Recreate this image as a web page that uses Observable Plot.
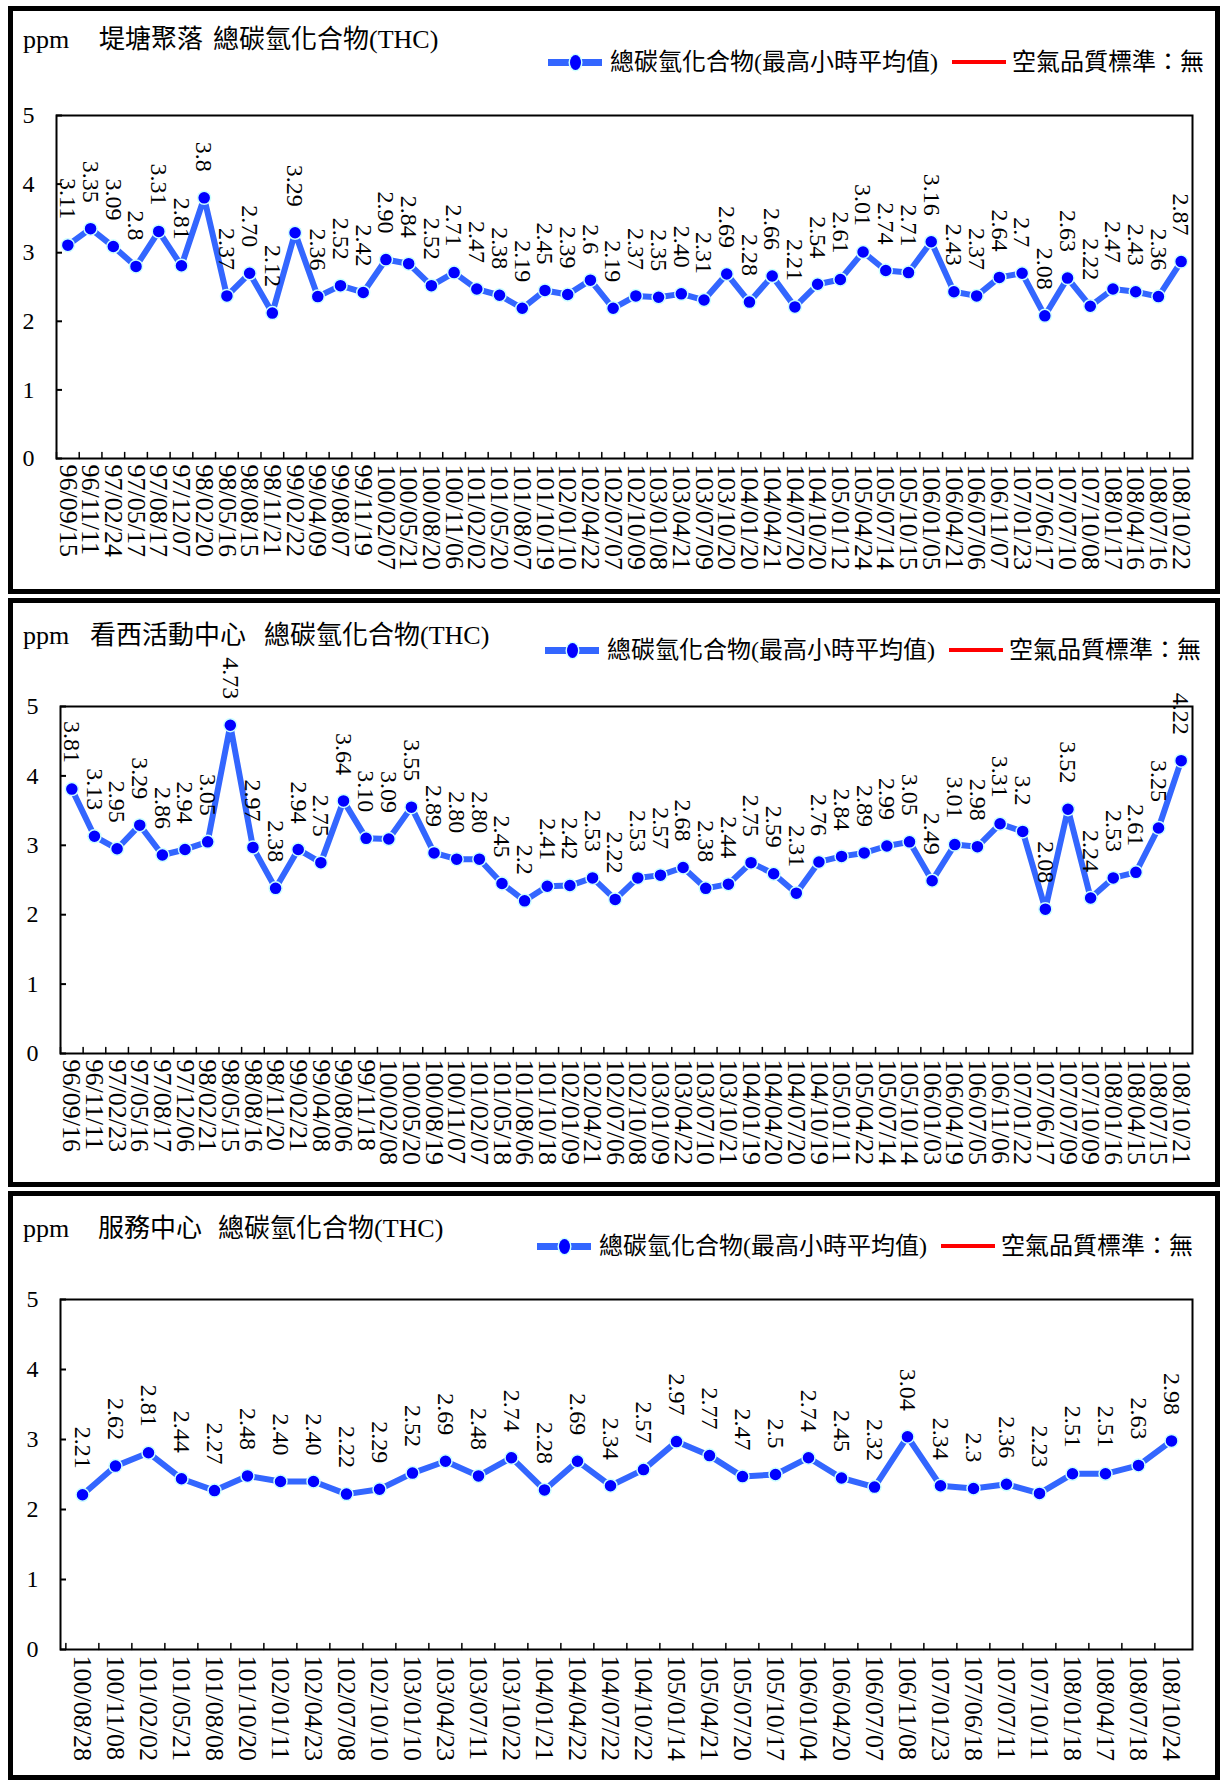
<!DOCTYPE html>
<html><head><meta charset="utf-8">
<script src="https://cdn.jsdelivr.net/npm/d3@7"></script>
<script src="https://cdn.jsdelivr.net/npm/@observablehq/plot@0.6"></script>
<style>
html,body{margin:0;padding:0;background:#fff;}
body{width:1220px;height:1780px;position:relative;overflow:hidden;font-family:"Liberation Serif","Noto Sans CJK TC",serif;color:#000;}
.panel{position:absolute;left:8px;width:1212px;border:5px solid #000;box-sizing:border-box;background:#fff;}
.title{position:absolute;font-size:26px;line-height:30px;white-space:nowrap;z-index:2;}
.title span{position:absolute;top:0;}
.legend{position:absolute;display:flex;align-items:center;font-size:24px;line-height:28px;white-space:nowrap;z-index:2;}
.sw-blue{position:relative;width:54px;height:7px;background:#3366ff;margin-right:8px;}
.sw-blue::after{content:"";position:absolute;left:50%;top:50%;width:11px;height:15px;margin:-7.5px 0 0 -5.5px;border-radius:50%;background:#0000ff;box-shadow:0 0 0 1.5px #ccffff;}
.sw-red{width:54px;height:4px;background:#ff0000;margin:0 6px 0 14px;}
.chart{position:absolute;left:0;top:0;z-index:1;}
</style></head>
<body>
<div id="root"></div>
<script>
// ---------- data ----------
const ditangDates = ["96/09/15","96/11/11","97/02/24","97/05/17","97/08/17","97/12/07","98/02/20","98/05/16","98/08/15","98/11/21","99/02/22","99/04/09","99/08/07","99/11/19","100/02/07","100/05/21","100/08/20","100/11/06","101/02/02","101/05/20","101/08/07","101/10/19","102/01/10","102/04/22","102/07/07","102/10/09","103/01/08","103/04/21","103/07/09","103/10/20","104/01/20","104/04/21","104/07/20","104/10/20","105/01/12","105/04/24","105/07/14","105/10/15","106/01/05","106/04/21","106/07/06","106/11/07","107/01/23","107/06/17","107/07/10","107/10/08","108/01/17","108/04/16","108/07/16","108/10/22"];
const ditangTHC = ["3.11","3.35","3.09","2.8","3.31","2.81","3.8","2.37","2.70","2.12","3.29","2.36","2.52","2.42","2.90","2.84","2.52","2.71","2.47","2.38","2.19","2.45","2.39","2.6","2.19","2.37","2.35","2.40","2.31","2.69","2.28","2.66","2.21","2.54","2.61","3.01","2.74","2.71","3.16","2.43","2.37","2.64","2.7","2.08","2.63","2.22","2.47","2.43","2.36","2.87"];

const kanxiDates = ["96/09/16","96/11/11","97/02/23","97/05/16","97/08/17","97/12/06","98/02/21","98/05/15","98/08/16","98/11/20","99/02/21","99/04/08","99/08/06","99/11/18","100/02/08","100/05/20","100/08/19","100/11/07","101/02/07","101/05/18","101/08/06","101/10/18","102/01/09","102/04/21","102/07/06","102/10/08","103/01/09","103/04/22","103/07/10","103/10/21","104/01/19","104/04/20","104/07/20","104/10/19","105/01/11","105/04/22","105/07/14","105/10/14","106/01/03","106/04/19","106/07/05","106/11/06","107/01/22","107/06/17","107/07/09","107/10/09","108/01/16","108/04/15","108/07/15","108/10/21"];
const kanxiTHC = ["3.81","3.13","2.95","3.29","2.86","2.94","3.05","4.73","2.97","2.38","2.94","2.75","3.64","3.10","3.09","3.55","2.89","2.80","2.80","2.45","2.2","2.41","2.42","2.53","2.22","2.53","2.57","2.68","2.38","2.44","2.75","2.59","2.31","2.76","2.84","2.89","2.99","3.05","2.49","3.01","2.98","3.31","3.2","2.08","3.52","2.24","2.53","2.61","3.25","4.22"];

const serviceDates = ["100/08/28","100/11/08","101/02/02","101/05/21","101/08/08","101/10/20","102/01/11","102/04/23","102/07/08","102/10/10","103/01/10","103/04/23","103/07/11","103/10/22","104/01/21","104/04/22","104/07/22","104/10/22","105/01/14","105/04/21","105/07/20","105/10/17","106/01/04","106/04/20","106/07/07","106/11/08","107/01/23","107/06/18","107/07/11","107/10/11","108/01/18","108/04/17","108/07/18","108/10/24"];
const serviceTHC = ["2.21","2.62","2.81","2.44","2.27","2.48","2.40","2.40","2.22","2.29","2.52","2.69","2.48","2.74","2.28","2.69","2.34","2.57","2.97","2.77","2.47","2.5","2.74","2.45","2.32","3.04","2.34","2.3","2.36","2.23","2.51","2.51","2.63","2.98"];

const stationNames = ["堤塘聚落","看西活動中心","服務中心"];
const yTicks = [0,1,2,3,4,5];
const unitLabel = "ppm";
const pollutantLabel = "總碳氫化合物(THC)";
const seriesLegend = "總碳氫化合物(最高小時平均值)";
const standardLegend = "空氣品質標準：無";

// ---------- layout ----------
const layouts = [
  {top:6,   height:588, ml:43, mt:104, mb:131, titleTop:14, placeLeft:86, thcLeft:200, legendLeft:535, legendTop:37},
  {top:598, height:589, ml:47, mt:103, mb:129, titleTop:18, placeLeft:77, thcLeft:251, legendLeft:532, legendTop:33},
  {top:1191,height:589, ml:47, mt:103, mb:126, titleTop:18, placeLeft:85, thcLeft:205, legendLeft:524, legendTop:36}
];
const series = [
  {dates: ditangDates, values: ditangTHC},
  {dates: kanxiDates, values: kanxiTHC},
  {dates: serviceDates, values: serviceTHC}
];

const root = document.getElementById("root");
const tickShape = {draw(ctx, l) { ctx.moveTo(0, 0); ctx.lineTo(0, -l); }};

series.forEach((s, i) => {
  const L = layouts[i];
  const panel = document.createElement("div");
  panel.className = "panel";
  panel.style.top = L.top + "px";
  panel.style.height = L.height + "px";
  root.appendChild(panel);

  const innerW = 1212 - 10, innerH = L.height - 10;
  const mr = 23;

  const title = document.createElement("div");
  title.className = "title";
  title.style.left = "0px";
  title.style.top = L.titleTop + "px";
  title.innerHTML = `<span style="left:10px">${unitLabel}</span><span style="left:${L.placeLeft}px">${stationNames[i]}</span><span style="left:${L.thcLeft}px">${pollutantLabel}</span>`;
  panel.appendChild(title);

  const legend = document.createElement("div");
  legend.className = "legend";
  legend.style.left = L.legendLeft + "px";
  legend.style.top = L.legendTop + "px";
  legend.innerHTML = `<span class="sw-blue"></span><span>${seriesLegend}</span><span class="sw-red"></span><span>${standardLegend}</span>`;
  panel.appendChild(legend);

  const data = s.dates.map((d, k) => ({date: d, value: +s.values[k], label: s.values[k]}));
  const step = (innerW - L.ml - mr) / s.dates.length;

  const chart = Plot.plot({
    width: innerW, height: innerH,
    marginLeft: L.ml, marginRight: mr, marginTop: L.mt, marginBottom: L.mb,
    style: {background: "transparent", fontFamily: "Liberation Serif, serif", color: "#000", overflow: "visible"},
    x: {type: "point", domain: s.dates, padding: 0.5, label: null},
    y: {domain: [0, 5], label: null},
    marks: [
      Plot.frame({stroke: "#000", strokeWidth: 2}),
      Plot.axisY(yTicks, {tickSize: -6, tickPadding: 28, fontSize: 24, stroke: "#000", strokeWidth: 2, tickFormat: d => String(d), label: null}),
      Plot.axisX({tickSize: 0, tickRotate: 90, tickPadding: 6, fontSize: 26, tickFormat: d => d, label: null}),
      Plot.vector(s.dates, {x: d => d, y: 0, length: 6, rotate: 0, anchor: "start", dx: -step / 2, stroke: "#000", strokeWidth: 1.5, shape: tickShape}),
      Plot.line(data, {x: "date", y: "value", stroke: "#3366ff", strokeWidth: 6}),
      Plot.dot(data, {x: "date", y: "value", r: 6.5, fill: "#0000ff", stroke: "#ccffff", strokeWidth: 1.5}),
      Plot.text(data, {x: "date", y: "value", text: "label", rotate: 90, textAnchor: "end", dy: -26, fontSize: 24, fill: "#000"})
    ]
  });
  chart.classList.add("chart");
  panel.appendChild(chart);
});
</script>
</body></html>
